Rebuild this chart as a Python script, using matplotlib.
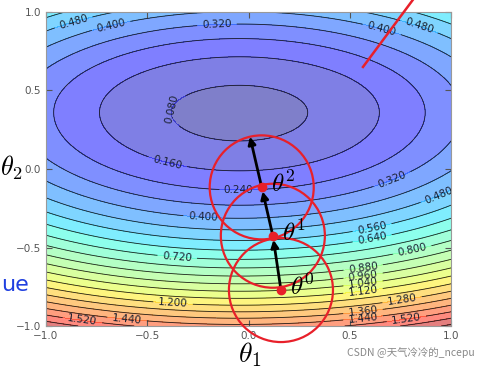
import matplotlib
matplotlib.use('Agg')
import matplotlib.pyplot as plt
import numpy as np
from matplotlib.patches import Ellipse

plt.rcParams['mathtext.fontset'] = 'cm'

# bowl-shaped loss surface:
# z = zmin + a*(x-x0)^2 + b*(y-y0)^2, b steeper above the minimum than below
zmin = 0.055
a_coef = 0.22
b_up = 0.835
b_down = 0.76
x_center = -0.045
y_center = 0.36
levels = np.arange(0, 1.84, 0.08)

# where the contour labels sit
label_pts = [(-0.35, 0.37), (-0.40, 0.04), (-0.05, -0.15),
             (-0.156, 0.92), (0.71, -0.07),
             (-0.68, 0.92), (0.66, 0.90), (-0.225, -0.31),
             (-0.865, 0.94), (0.84, 0.90), (0.945, -0.18),
             (0.61, -0.375), (0.61, -0.44), (-0.353, -0.573), (0.81, -0.53),
             (0.565, -0.62), (0.565, -0.675), (0.565, -0.726), (0.565, -0.777),
             (-0.373, -0.86), (0.758, -0.834), (0.565, -0.91),
             (0.565, -0.95), (-0.6, -0.96), (-0.82, -0.96), (0.78, -0.96)]

# gradient descent steps theta0 -> theta1 -> theta2 -> next
steps_x = [0.160, 0.120, 0.065, 0.007]
steps_y = [-0.771, -0.425, -0.117, 0.206]

x = np.linspace(-1, 1, 300)
y = np.linspace(-1, 1, 300)
X, Y = np.meshgrid(x, y)
B = np.where(Y > y_center, b_up, b_down)
Z = zmin + a_coef * (X - x_center) ** 2 + B * (Y - y_center) ** 2

fig = plt.figure(figsize=(4.8, 3.69), dpi=100)
ax = fig.add_axes([0.0958, 0.1165, 0.844, 0.851])

ax.contourf(X, Y, Z, levels=levels, cmap='jet', alpha=0.5)
cs = ax.contour(X, Y, Z, levels=levels, colors='#222222', linewidths=0.6)
cs.clabel(manual=label_pts, inline=True, fmt='%.3f', fontsize=7.5, colors='#1a2030')

ax.set_xlim(-1, 1)
ax.set_ylim(-1, 1)
ax.set_xticks([-1.0, -0.5, 0.0, 0.5, 1.0])
ax.set_yticks([-1.0, -0.5, 0.0, 0.5, 1.0])
ax.tick_params(direction='in', top=True, right=True, labelsize=7.5,
               colors='#555555', length=4)
for sp in ax.spines.values():
    sp.set_color('#999999')

red = '#e8202a'
for cx, cy in zip(steps_x[:3], steps_y[:3]):
    ax.add_patch(Ellipse((cx, cy), 2 * 52 / 202.5, 2 * 52 / 157, fill=False,
                         ec=red, lw=1.6, clip_on=False, zorder=5))
for i in range(3):
    ax.annotate('', xy=(steps_x[i + 1], steps_y[i + 1]), xytext=(steps_x[i], steps_y[i]),
                arrowprops=dict(arrowstyle='-|>', color='k', lw=2, mutation_scale=11,
                                shrinkA=0, shrinkB=3 if i < 2 else 0),
                zorder=6)
ax.plot(steps_x[:3], steps_y[:3], 'o', color=red, ms=6, zorder=7, clip_on=False)
for i in range(3):
    ax.text(steps_x[i] + 0.045, steps_y[i] + 0.02, r'$\theta^{%d}$' % i, fontsize=18,
            va='center', ha='left', zorder=8)

ax.plot([0.565, 0.83], [0.65, 1.11], color=red, lw=1.8, clip_on=False, zorder=5)

fig.text(23 / 480, 1 - 168 / 369, r'$\theta_2$', fontsize=19, ha='right', va='center')
fig.text(250 / 480, 1 - 355 / 369, r'$\theta_1$', fontsize=20, ha='center', va='center')
fig.text(0.002, 1 - 285 / 369, 'ue', fontsize=16, color='#1f3fe0', ha='left', va='center')
fig.text(0.99, 1 - 353 / 369, 'CSDN @天气冷冷的_ncepu', fontsize=7.5, color='#888888',
         ha='right', va='center', family=['Noto Sans CJK SC', 'DejaVu Sans'])

fig.savefig('out.png', dpi=100)
